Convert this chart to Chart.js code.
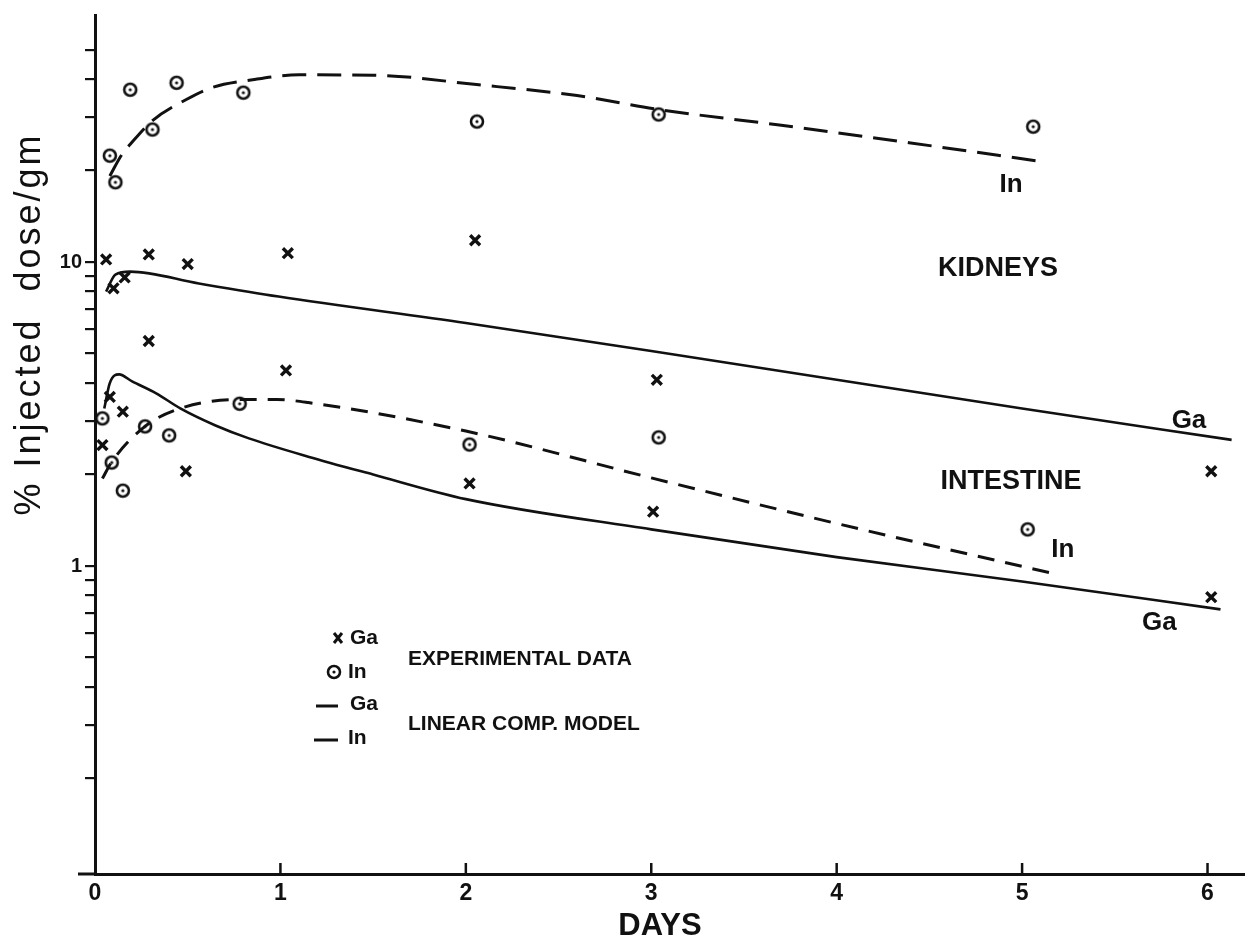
<!DOCTYPE html>
<html><head><meta charset="utf-8">
<script src="https://cdn.jsdelivr.net/npm/chart.js@4.4.1/dist/chart.umd.min.js"></script>
<style>html,body{margin:0;padding:0;background:#fff}canvas{display:block}</style>
</head><body>
<canvas id="c" width="1255" height="941"></canvas>
<script>
// ---- tick definitions ----
const xTickValues = [0, 1, 2, 3, 4, 5, 6];
const yTickValues = [0.2,0.3,0.4,0.5,0.6,0.7,0.8,0.9,1,2,3,4,5,6,7,8,9,10,20,30,40,50];
const yLabelValues = [1, 10];

// ---- experimental data (days, % injected dose/gm) ----
const kidneyGaDays   = [0.06, 0.10, 0.16, 0.29, 0.50, 1.04, 2.05, 3.03, 6.02];
const kidneyGaValues = [10.2, 8.2, 8.9, 10.6, 9.85, 10.7, 11.8, 4.1, 2.05];
const intestineGaDays   = [0.04, 0.08, 0.15, 0.29, 0.49, 1.03, 2.02, 3.01, 6.02];
const intestineGaValues = [2.5, 3.6, 3.22, 5.5, 2.05, 4.4, 1.87, 1.51, 0.79];
const kidneyInDays   = [0.08, 0.11, 0.19, 0.31, 0.44, 0.80, 2.06, 3.04, 5.06];
const kidneyInValues = [22.4, 18.3, 36.9, 27.3, 38.9, 36.1, 29.0, 30.6, 27.9];
const intestineInDays   = [0.04, 0.09, 0.15, 0.27, 0.40, 0.78, 2.02, 3.04, 5.03];
const intestineInValues = [3.06, 2.19, 1.77, 2.88, 2.69, 3.42, 2.51, 2.65, 1.32];

// ---- linear compartment model curves ----
const kidneyInModelDays   = [0.08, 0.145, 0.19, 0.31, 0.49, 0.63, 0.85, 1.1, 1.5, 2.07, 2.6, 3.05, 3.68, 4.39, 5.11];
const kidneyInModelValues = [19.2, 22.6, 24.4, 29.2, 34.2, 37.5, 39.8, 41.3, 41.2, 38.3, 35.3, 31.7, 28.3, 24.7, 21.4];
const kidneyGaModelDays   = [0.06, 0.11, 0.19, 0.56, 0.99, 2.0, 3.0, 4.0, 5.0, 6.13];
const kidneyGaModelValues = [8.0, 9.1, 9.3, 8.5, 7.7, 6.3, 5.1, 4.1, 3.3, 2.6];
const intestineGaModelDays   = [0.05, 0.08, 0.13, 0.2, 0.33, 0.46, 0.65, 0.83, 1.15, 1.5, 2.0, 3.0, 4.0, 5.0, 6.07];
const intestineGaModelValues = [3.3, 4.0, 4.27, 4.05, 3.7, 3.3, 2.9, 2.63, 2.29, 2.0, 1.66, 1.32, 1.07, 0.89, 0.72];
const intestineInModelDays   = [0.04, 0.09, 0.27, 0.46, 0.78, 0.98, 1.15, 2.0, 3.0, 4.0, 5.15];
const intestineInModelValues = [1.94, 2.2, 2.88, 3.3, 3.53, 3.53, 3.45, 2.78, 1.95, 1.38, 0.95];

const INK = '#111';
const FONT = '"Liberation Sans", Arial, sans-serif';

function pts(xs, ys) { return xs.map((x, i) => ({ x: x, y: ys[i] })); }

// circle-with-dot marker
const circleMark = document.createElement('canvas');
circleMark.width = 18; circleMark.height = 18;
(function () {
  const g = circleMark.getContext('2d');
  g.strokeStyle = INK; g.fillStyle = INK; g.lineWidth = 2.6;
  g.beginPath(); g.arc(9, 9, 6, 0, Math.PI * 2); g.stroke();
  g.beginPath(); g.arc(9, 9, 1.6, 0, Math.PI * 2); g.fill();
})();

function markDataset(xs, ys, isCircle) {
  return {
    data: pts(xs, ys), showLine: false,
    pointStyle: isCircle ? circleMark : 'crossRot',
    pointRadius: 7, borderColor: INK, backgroundColor: INK,
    borderWidth: 3.4, pointHoverRadius: 7
  };
}
function curveDataset(xs, ys, dash, width) {
  return {
    data: pts(xs, ys), showLine: true, pointRadius: 0, pointHoverRadius: 0,
    borderColor: INK, borderWidth: width, borderDash: dash,
    cubicInterpolationMode: 'monotone', borderCapStyle: 'butt', fill: false
  };
}

// text annotations anchored in data coordinates
const annotations = [
  { text: 'In', x: 4.94, y: 18.0, size: 26 },
  { text: 'KIDNEYS', x: 4.87, y: 9.5, size: 27 },
  { text: 'Ga', x: 5.9, y: 3.0, size: 26 },
  { text: 'INTESTINE', x: 4.94, y: 1.9, size: 27 },
  { text: 'In', x: 5.22, y: 1.13, size: 26 },
  { text: 'Ga', x: 5.74, y: 0.65, size: 26 }
];

const decor = {
  id: 'decor',
  afterDraw(chart) {
    const ctx = chart.ctx, xs = chart.scales.x, ys = chart.scales.y;
    const area = chart.chartArea;
    ctx.save();
    ctx.strokeStyle = INK; ctx.fillStyle = INK;
    // x axis extension left of y axis
    ctx.lineWidth = 3;
    ctx.beginPath(); ctx.moveTo(78, area.bottom); ctx.lineTo(area.left, area.bottom); ctx.stroke();
    // upward ticks on x axis
    ctx.lineWidth = 2.5;
    xTickValues.forEach(v => {
      if (v === 0) return;
      const px = xs.getPixelForValue(v);
      ctx.beginPath(); ctx.moveTo(px, area.bottom); ctx.lineTo(px, area.bottom - 11); ctx.stroke();
    });
    // annotations
    ctx.textAlign = 'center'; ctx.textBaseline = 'middle';
    annotations.forEach(a => {
      ctx.font = 'bold ' + a.size + 'px ' + FONT;
      ctx.fillText(a.text, xs.getPixelForValue(a.x), ys.getPixelForValue(a.y));
    });
    // y axis title
    ctx.save();
    ctx.translate(30, 324);
    ctx.rotate(-Math.PI / 2);
    ctx.font = '36px ' + FONT;
    ctx.letterSpacing = '3px';
    ctx.fillText('% Injected  dose/gm', 0, 0);
    ctx.restore();
    // x axis title
    ctx.font = 'bold 31px ' + FONT;
    ctx.fillText('DAYS', 660, 926);
    // legend
    ctx.font = 'bold 21px ' + FONT;
    ctx.textAlign = 'left';
    ctx.lineWidth = 3;
    ctx.beginPath();
    ctx.moveTo(334, 633); ctx.lineTo(342, 643); ctx.moveTo(342, 633); ctx.lineTo(334, 643); ctx.stroke();
    ctx.fillText('Ga', 350, 638);
    ctx.drawImage(circleMark, 325, 663);
    ctx.fillText('In', 348, 672);
    ctx.beginPath(); ctx.moveTo(316, 706); ctx.lineTo(338, 706); ctx.stroke();
    ctx.fillText('Ga', 350, 704);
    ctx.beginPath(); ctx.moveTo(314, 740); ctx.lineTo(338, 740); ctx.stroke();
    ctx.fillText('In', 348, 738);
    ctx.fillText('EXPERIMENTAL DATA', 408, 659);
    ctx.fillText('LINEAR COMP. MODEL', 408, 724);
    ctx.restore();
  }
};

new Chart(document.getElementById('c'), {
  type: 'scatter',
  data: {
    datasets: [
      curveDataset(kidneyInModelDays, kidneyInModelValues, [24, 11], 3),
      curveDataset(kidneyGaModelDays, kidneyGaModelValues, [], 2.6),
      curveDataset(intestineGaModelDays, intestineGaModelValues, [], 2.6),
      curveDataset(intestineInModelDays, intestineInModelValues, [17, 11], 3),
      markDataset(kidneyGaDays, kidneyGaValues, false),
      markDataset(intestineGaDays, intestineGaValues, false),
      markDataset(kidneyInDays, kidneyInValues, true),
      markDataset(intestineInDays, intestineInValues, true)
    ]
  },
  options: {
    responsive: false, animation: false, devicePixelRatio: 1,
    layout: { padding: { top: 13, right: 5, left: 0, bottom: 0 } },
    plugins: { legend: { display: false }, tooltip: { enabled: false } },
    scales: {
      x: {
        type: 'linear', min: 0, max: 6.2,
        afterBuildTicks: s => { s.ticks = xTickValues.map(v => ({ value: v })); },
        afterFit: s => { s.height = 67; },
        grid: { display: false, drawTicks: false },
        border: { display: true, color: INK, width: 3 },
        ticks: { color: INK, padding: 6, maxRotation: 0, autoSkip: false,
          font: { family: FONT, size: 23, weight: 'bold' },
          callback: v => String(v) }
      },
      y: {
        type: 'logarithmic', min: 0.097, max: 65,
        afterBuildTicks: s => { s.ticks = yTickValues.map(v => ({ value: v })); },
        afterFit: s => { s.width = 95; },
        grid: { drawOnChartArea: false, drawTicks: true, tickLength: 10, color: INK, lineWidth: 2.2 },
        border: { display: true, color: INK, width: 3 },
        ticks: { color: INK, padding: 3, autoSkip: false,
          font: { family: FONT, size: 20, weight: 'bold' },
          callback: v => (yLabelValues.includes(v) ? String(v) : '') }
      }
    }
  },
  plugins: [decor]
});
</script>
</body></html>
